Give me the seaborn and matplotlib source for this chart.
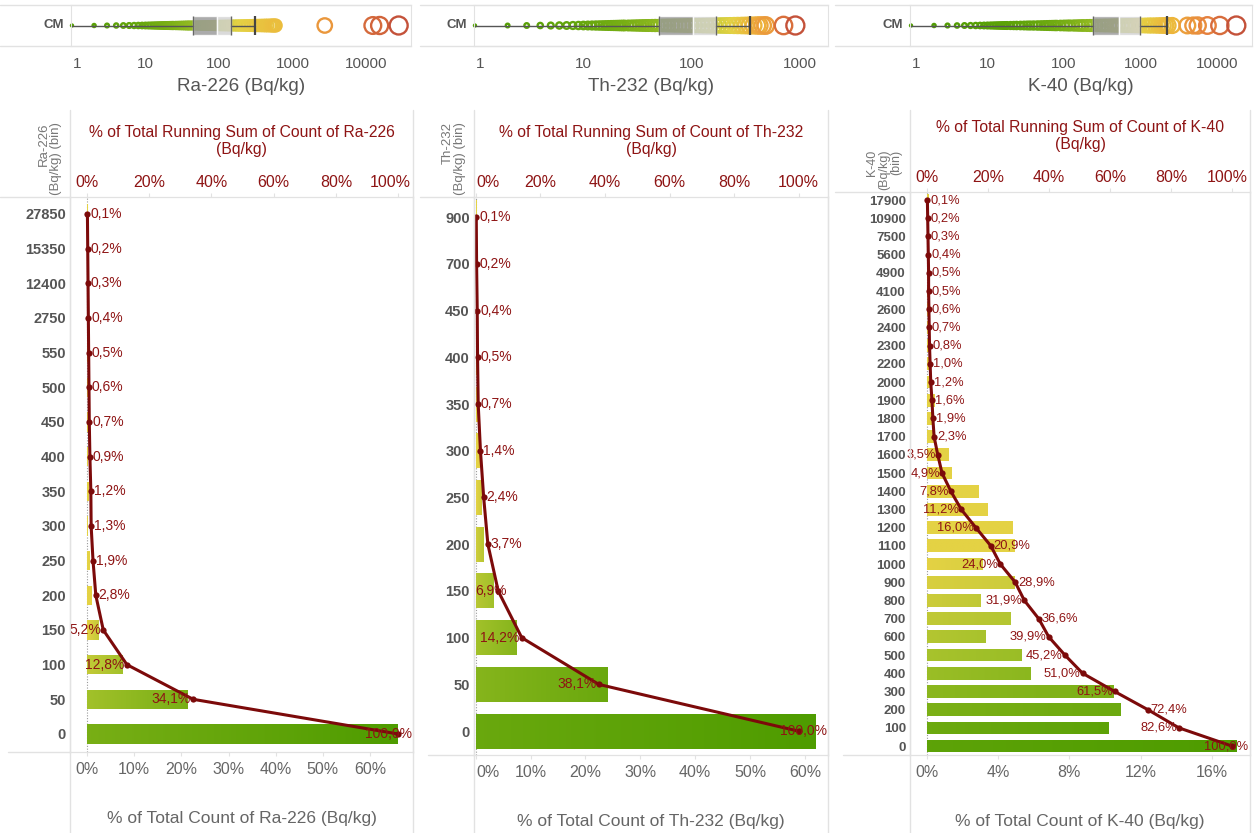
import numpy as np
import pandas as pd
import matplotlib
matplotlib.use("Agg")
import matplotlib.pyplot as plt
import seaborn as sns
from matplotlib.colors import LinearSegmentedColormap, to_rgba
from matplotlib.lines import Line2D
from matplotlib.transforms import ScaledTranslation
from matplotlib.ticker import FixedLocator, LogLocator, NullFormatter, FuncFormatter

# ---- values ----
ra_bins = ['27850', '15350', '12400', '2750', '550', '500', '450', '400', '350',
           '300', '250', '200', '150', '100', '50', '0']
ra_pct = [0.1, 0.1, 0.1, 0.1, 0.1, 0.1, 0.1, 0.2, 0.3, 0.1, 0.6, 0.9, 2.4, 7.6, 21.3, 65.9]
ra_cum = [0.1, 0.2, 0.3, 0.4, 0.5, 0.6, 0.7, 0.9, 1.2, 1.3, 1.9, 2.8, 5.2, 12.8, 34.1, 100.0]

th_bins = ['900', '700', '450', '400', '350', '300', '250', '200', '150', '100', '50', '0']
th_pct = [0.1, 0.1, 0.2, 0.1, 0.2, 0.7, 1.0, 1.3, 3.2, 7.3, 23.9, 61.9]
th_cum = [0.1, 0.2, 0.4, 0.5, 0.7, 1.4, 2.4, 3.7, 6.9, 14.2, 38.1, 100.0]

k_bins = ['17900', '10900', '7500', '5600', '4900', '4100', '2600', '2400', '2300', '2200',
          '2000', '1900', '1800', '1700', '1600', '1500', '1400', '1300', '1200', '1100',
          '1000', '900', '800', '700', '600', '500', '400', '300', '200', '100', '0']
k_pct = [0.1, 0.1, 0.1, 0.1, 0.1, 0.05, 0.1, 0.1, 0.1, 0.2, 0.2, 0.4, 0.3, 0.4, 1.2, 1.4,
         2.9, 3.4, 4.8, 4.9, 3.1, 4.9, 3.0, 4.7, 3.3, 5.3, 5.8, 10.5, 10.9, 10.2, 17.4]
k_cum = [0.1, 0.2, 0.3, 0.4, 0.5, 0.5, 0.6, 0.7, 0.8, 1.0, 1.2, 1.6, 1.9, 2.3, 3.5, 4.9,
         7.8, 11.2, 16.0, 20.9, 24.0, 28.9, 31.9, 36.6, 39.9, 45.2, 51.0, 61.5, 72.4, 82.6, 100.0]

# distinct values visible in the top strips (Bq/kg)
ra_strip = [1, 2, 3, 4, 5, 6, 7, 8, 9, 10, 11, 12, 13, 14, 15, 16, 17, 18, 19, 20, 21, 22,
            23, 24, 26, 28, 30, 32, 34, 36, 38, 40, 43, 46, 50, 54, 58, 62, 67, 72, 78, 85,
            92, 100, 108, 117, 127, 138, 150, 163, 177, 192, 208, 225, 245, 265, 290, 315,
            340, 370, 400, 430, 460, 500, 530, 560, 590, 2750, 12400, 15350, 27850]
th_strip = [1, 2, 3, 4, 5, 6, 7, 8, 9, 10, 11, 12, 13, 14, 15, 16, 17, 18, 19, 20, 21, 22,
            23, 24, 26, 28, 30, 32, 34, 36, 38, 40, 43, 46, 50, 54, 58, 62, 67, 72, 78, 85,
            92, 100, 108, 117, 127, 138, 150, 163, 177, 192, 208, 225, 245, 265, 290, 315,
            340, 370, 400, 420, 450, 480, 700, 900]
k_strip = [1, 2, 3, 4, 5, 6, 7, 8, 9, 10, 11, 12, 13, 14, 15, 16, 17, 18, 20, 22, 24, 27,
           30, 33, 36, 40, 45, 50, 55, 60, 65, 70, 75, 80, 90, 100, 110, 120, 135, 150, 165,
           180, 200, 220, 240, 270, 300, 330, 360, 400, 440, 480, 520, 580, 640, 700, 770,
           850, 930, 1000, 1100, 1200, 1300, 1400, 1550, 1700, 1850, 2000, 2150, 2300, 2600,
           4100, 4900, 5600, 7500, 10900, 17900]

# whisker low, q1, median, q3, whisker high
ra_box = [1, 44, 95, 148, 305]
th_box = [1, 50, 103, 168, 347]
k_box = [1, 240, 530, 1000, 2200]

# label placement relative to the point: r = right, l = left, c = over it, e = pinned to pane edge
ra_sides = ['r'] * 12 + ['l', 'l', 'l', 'e']
th_sides = ['r'] * 8 + ['c', 'l', 'l', 'e']
k_sides = ['r'] * 14 + ['l', 'l', 'l', 'l', 'l', 'r', 'l', 'r', 'l', 'r', 'l', 'l', 'l', 'l', 'r', 'l', 'e']

sns.set_style('white')
plt.rcParams['font.family'] = ['Liberation Sans', 'DejaVu Sans']

W, H = 1260, 833
fig = plt.figure(figsize=(12.6, 8.33), dpi=100)

GRID = '#e2e2e2'
DARKRED = '#8e1414'
LINE = '#7c0a0a'
TXT = '#666666'

green_yellow = LinearSegmentedColormap.from_list('gy', ['#4e9c00', '#a2c12a', '#e4d244'])
yellow_red = LinearSegmentedColormap.from_list('yr', ['#e4d244', '#eeb23a', '#e8843e', '#c4523a'])


def rect(l, t, r, b):
    return [l / W, 1 - b / H, (r - l) / W, (b - t) / H]


def hline(y, x0, x1):
    fig.add_artist(Line2D([x0 / W, x1 / W], [1 - y / H] * 2, color=GRID, lw=1))


def vline(x, y0, y1):
    fig.add_artist(Line2D([x / W] * 2, [1 - y0 / H, 1 - y1 / H], color=GRID, lw=1))


def value_color(v, yellow_at, vmax):
    if v <= yellow_at:
        return green_yellow((v / yellow_at) ** 0.6)
    t = np.log(v / yellow_at) / np.log(vmax / yellow_at)
    return yellow_red(min(t, 1.0))


def draw_strip(box, vals, stats, yellow_at, xlim, title):
    ax = fig.add_axes(rect(*box))
    vals = np.asarray(vals, float)
    vmax = vals.max()
    cols = [value_color(v, yellow_at, vmax) for v in vals]
    diam = 2 + 16 * (np.log10(vals) / np.log10(vmax))
    ax.scatter(vals, np.zeros(len(vals)), s=(diam * 0.72) ** 2, facecolors='none',
               edgecolors=cols, linewidths=1.7, zorder=2, clip_on=False)
    lo, q1, med, q3, hi = stats
    ax.barh(0, med - q1, left=q1, height=0.95, color='#999999', alpha=0.82, zorder=3)
    ax.barh(0, q3 - med, left=med, height=0.95, color='#d2d2d2', alpha=0.82, zorder=3)
    ax.plot([lo, q1], [0, 0], color='#555555', lw=1, zorder=4)
    ax.plot([q3, hi], [0, 0], color='#555555', lw=1, zorder=4)
    ax.vlines([q1, q3], -0.475, 0.475, color='#666666', lw=1, zorder=4)
    ax.vlines([hi], -0.45, 0.45, color='#444444', lw=1.6, zorder=4)
    ax.set_xscale('log')
    ax.set_xlim(*xlim)
    ax.set_ylim(-1, 1)
    ax.set_yticks([])
    ax.xaxis.set_major_locator(FixedLocator([1, 10, 100, 1000, 10000]))
    ax.xaxis.set_major_formatter(FuncFormatter(lambda v, p: f'{v:g}'))
    ax.xaxis.set_minor_locator(LogLocator(base=10, subs=range(2, 10)))
    ax.xaxis.set_minor_formatter(NullFormatter())
    ax.tick_params(axis='x', which='major', length=5, color=GRID, labelsize=11,
                   labelcolor='#555555', pad=3)
    ax.tick_params(axis='x', which='minor', length=3, color=GRID)
    ax.set_xlabel(title, fontsize=13.6, color='#555555', labelpad=5)
    for s in ax.spines.values():
        s.set_color(GRID)
    fig.text((box[0] - 7) / W, 1 - 25 / H, 'CM', ha='right', va='center',
             fontsize=9.5, fontweight='bold', color='#555555')
    return [ax]


def draw_pareto(box, bins, pct, cum, sides, bar_h, bin_w, yellow_at, xlim_b, xlim_t,
                bticks, ypad, ylabel, yfs, lfs, name):
    ax = fig.add_axes(rect(*box))
    n = len(bins)
    df = pd.DataFrame({'bin': bins, 'pct': pct})
    base = [green_yellow(min((float(b) + bin_w / 2) / yellow_at, 1.0)) for b in bins]
    sns.barplot(data=df, x='pct', y='bin', hue='bin', order=bins, hue_order=bins,
                palette=base, legend=False, width=bar_h, saturation=1, orient='h', ax=ax)
    # colour each bar along its length, like the stacked marks in the original
    for p in ax.patches:
        i = int(round(p.get_y() + p.get_height() / 2))
        lo = float(bins[i])
        c_left = to_rgba(green_yellow(min((lo + bin_w) / yellow_at, 1.0)))
        c_right = to_rgba(green_yellow(min(lo / yellow_at, 1.0)))
        grad = np.linspace(c_left, c_right, 64)[None, :, :]
        im = ax.imshow(grad, extent=[p.get_x(), p.get_x() + p.get_width(),
                                     p.get_y() + p.get_height(), p.get_y()],
                       aspect='auto', interpolation='bilinear', zorder=p.get_zorder() + 0.1)
        im.set_clip_path(p)
    ax.axvline(0, color='#9a9a9a', ls=(0, (1, 1.5)), lw=0.8, zorder=1)
    ax.set_xlim(*xlim_b)
    ax.set_xticks(bticks)
    ax.set_xticklabels([f'{t}%' for t in bticks])
    ax.tick_params(axis='x', length=3, color=GRID, labelsize=11.5, labelcolor=TXT, pad=4)
    ax.set_xlabel(f'% of Total Count of {name} (Bq/kg)', fontsize=12.5, color=TXT, labelpad=25)
    ax.set_ylabel('')
    ax.tick_params(axis='y', length=0, pad=3, labelsize=yfs, labelcolor='#555555')
    for lab in ax.get_yticklabels():
        lab.set_fontweight('bold')

    ax2 = ax.twiny()
    sns.lineplot(x=cum, y=np.arange(n), sort=False, estimator=None, color=LINE, lw=2.2,
                 marker='o', markersize=4.5, markeredgewidth=0, ax=ax2)
    for i, (v, s) in enumerate(zip(cum, sides)):
        txt = f'{v:.1f}%'.replace('.', ',')
        kw = dict(va='center', fontsize=lfs, color=DARKRED, zorder=6)
        if s == 'r':
            ax2.annotate(txt, (v, i), xytext=(2, 0), textcoords='offset points', ha='left', **kw)
        elif s == 'l':
            ax2.annotate(txt, (v, i), xytext=(-1.5, 0), textcoords='offset points', ha='right', **kw)
        elif s == 'c':
            ax2.annotate(txt, (v, i), xytext=(6, 0), textcoords='offset points', ha='right', **kw)
        else:
            ax2.annotate(txt, (1.0, i), xycoords=('axes fraction', 'data'), xytext=(-1, 0),
                         textcoords='offset points', ha='right', **kw)
    ax2.set_xlim(*xlim_t)
    ax2.set_xticks([0, 20, 40, 60, 80, 100])
    ax2.set_xticklabels([f'{t}%' for t in [0, 20, 40, 60, 80, 100]])
    ax2.tick_params(axis='x', length=3, color=GRID, labelsize=11.5, labelcolor=DARKRED, pad=2)
    ax2.set_xlabel(f'% of Total Running Sum of Count of {name}\n(Bq/kg)', fontsize=11.3,
                   color=DARKRED, labelpad=15)
    ax2.set_ylabel('')
    ax.set_ylim(n - 1 + ypad[1], -ypad[0])
    for a in (ax, ax2):
        for s in a.spines.values():
            s.set_color(GRID)
    fig.text((box[0] - 8) / W, 1 - (box[1] - 2) / H, ylabel, rotation=90, ha='right',
             va='bottom', fontsize=9.5 if yfs > 10 else 9, color='#777777',
             linespacing=1.0)
    return [ax, ax2]


# column frames
cols = [(0, 71, 411, 70, 413, 197, 752), (420, 474, 828, 474, 828, 197, 755),
        (835, 910, 1252, 910, 1250, 192, 755)]
for c0, sl, sr, pl, pr, pt, pb in cols:
    hline(5, c0, sr)
    hline(46, c0, sr)
    hline(pt, c0, pl)
    hline(pb, c0 + 8, pl)
    vline(pl, 110, 833)
    vline(pr, 110, 833)

axes = []
axes += draw_strip((71, 5, 411, 46), ra_strip, ra_box, 200, (0.97, 41000), 'Ra-226 (Bq/kg)')
axes += draw_strip((474, 5, 828, 46), th_strip, th_box, 250, (0.98, 1800), 'Th-232 (Bq/kg)')
axes += draw_strip((910, 5, 1252, 46), k_strip, k_box, 1100, (0.97, 28700), 'K-40 (Bq/kg)')

axes += draw_pareto((70, 197, 413, 752), ra_bins, ra_pct, ra_cum, ra_sides, 0.55, 50, 200,
                    (-3.6, 69.1), (-5.5, 104.8), [0, 10, 20, 30, 40, 50, 60], (0.49, 0.52),
                    'Ra-226\n(Bq/kg) (bin)', 10.5, 10, 'Ra-226')
axes += draw_pareto((474, 197, 828, 755), th_bins, th_pct, th_cum, th_sides, 0.75, 50, 300,
                    (-0.3, 64.2), (-0.6, 109.1), [0, 10, 20, 30, 40, 50, 60], (0.43, 0.51),
                    'Th-232\n(Bq/kg) (bin)', 10.5, 10, 'Th-232')
axes += draw_pareto((910, 192, 1250, 755), k_bins, k_pct, k_cum, k_sides, 0.7, 100, 1100,
                    (-0.96, 18.15), (-5.6, 105.9), [0, 4, 8, 12, 16], (0.44, 0.49),
                    'K-40\n(Bq/kg)\n(bin)', 9.5, 9.3, 'K-40')

# keep x tick labels inside their pane, the way the original pushes edge labels in
fig.canvas.draw()
for a in axes:
    abb = a.get_window_extent()
    for lab in a.get_xticklabels():
        if not lab.get_visible() or not lab.get_text():
            continue
        bb = lab.get_window_extent()
        dx = 0
        if bb.x1 > abb.x1:
            dx = abb.x1 - bb.x1 - 2
        elif bb.x0 < abb.x0:
            dx = abb.x0 - bb.x0 + 2
        if dx:
            lab.set_transform(lab.get_transform() + ScaledTranslation(dx / fig.dpi, 0, fig.dpi_scale_trans))

fig.savefig('out.png', dpi=100)
